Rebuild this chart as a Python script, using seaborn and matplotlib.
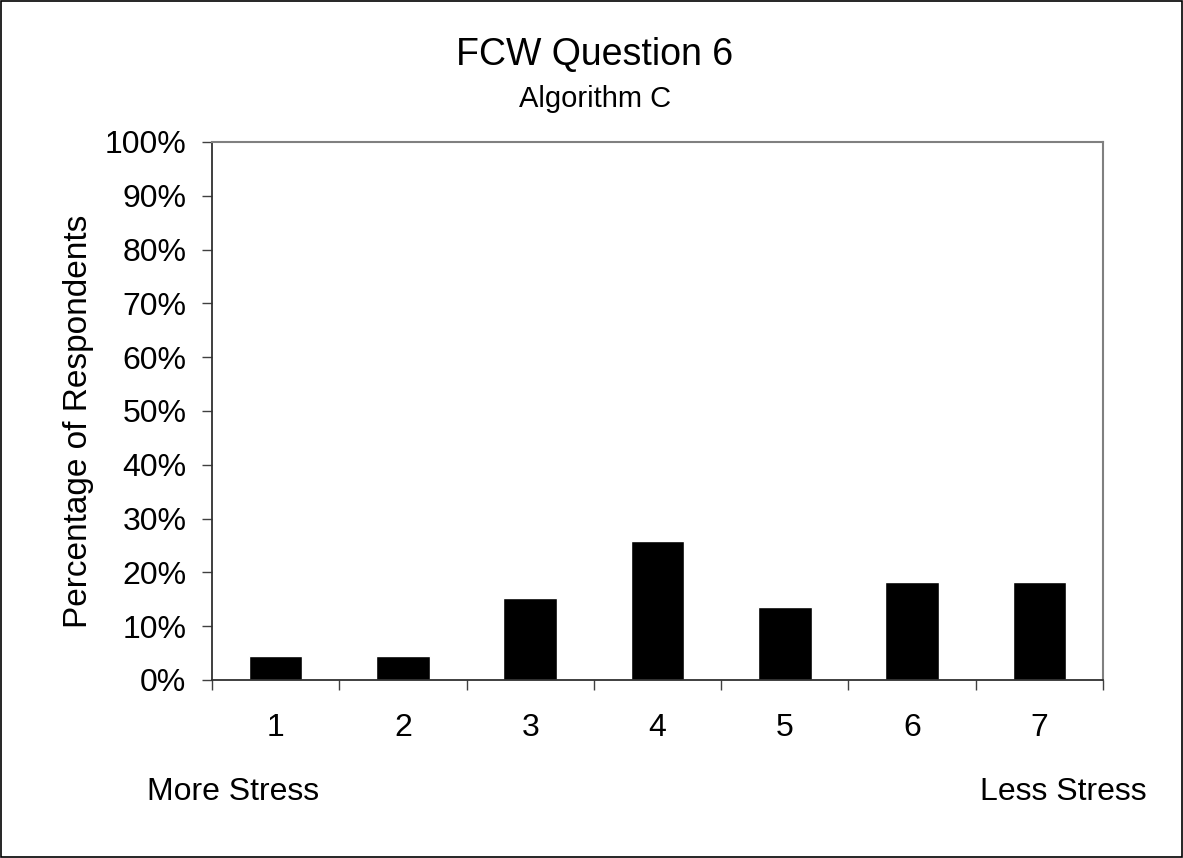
import numpy as np
import pandas as pd
import seaborn as sns
import matplotlib.pyplot as plt
from matplotlib.ticker import FixedLocator, PercentFormatter
from matplotlib.patches import Rectangle

# Chart data
categories = ['1', '2', '3', '4', '5', '6', '7']
percent = [4.5, 4.5, 15.2, 25.8, 13.6, 18.2, 18.2]
y_ticks = [0, 10, 20, 30, 40, 50, 60, 70, 80, 90, 100]

df = pd.DataFrame({'rating': categories, 'pct': percent})

sns.set_style('white')
plt.rcParams['font.family'] = ['Liberation Sans', 'DejaVu Sans']
plt.rcParams['text.color'] = 'black'
plt.rcParams['axes.labelcolor'] = 'black'
plt.rcParams['xtick.color'] = 'black'
plt.rcParams['ytick.color'] = 'black'

fig = plt.figure(figsize=(11.83, 8.58), dpi=100)
ax = fig.add_axes([0.1792, 0.2075, 0.7532, 0.627])

sns.barplot(data=df, x='rating', y='pct', color='black', width=0.42,
            saturation=1, ax=ax)

ax.set_xlim(-0.5, 6.5)
ax.set_ylim(0, 100)
ax.yaxis.set_major_locator(FixedLocator(y_ticks))
ax.yaxis.set_major_formatter(PercentFormatter(decimals=0))

# x tick marks sit between the categories
ax.xaxis.set_minor_locator(FixedLocator(np.arange(-0.5, 7, 1)))
ax.tick_params(axis='x', which='major', bottom=True, length=0, pad=24, labelsize=23)
ax.tick_params(axis='x', which='minor', bottom=True, length=7.5, width=1,
               color='#404040', direction='out')
ax.tick_params(axis='y', which='major', left=True, length=7.5, width=1,
               color='#404040', direction='out', labelsize=23, pad=11)

ax.set_xlabel('')
ax.set_ylabel('Percentage of Respondents', fontsize=24, va='center')
ax.yaxis.set_label_coords(-0.150, 0.48)

for side in ['top', 'right']:
    ax.spines[side].set_color('#808080')
    ax.spines[side].set_linewidth(1.5)
for side in ['left', 'bottom']:
    ax.spines[side].set_color('#303030')
    ax.spines[side].set_linewidth(1.3)

fig.text(0.503, 0.9242, 'FCW Question 6', ha='center', va='baseline', fontsize=27)
fig.text(0.503, 0.8753, 'Algorithm C', ha='center', va='baseline', fontsize=21)
fig.text(0.124, 0.0676, 'More Stress', ha='left', va='baseline', fontsize=23)
fig.text(0.9696, 0.0676, 'Less Stress', ha='right', va='baseline', fontsize=23)

# outer frame of the chart area
fig.patches.append(Rectangle((0.001, 0.001), 0.998, 0.998, transform=fig.transFigure,
                             fill=False, edgecolor='black', linewidth=1.2))

fig.savefig('out.png', dpi=100)
